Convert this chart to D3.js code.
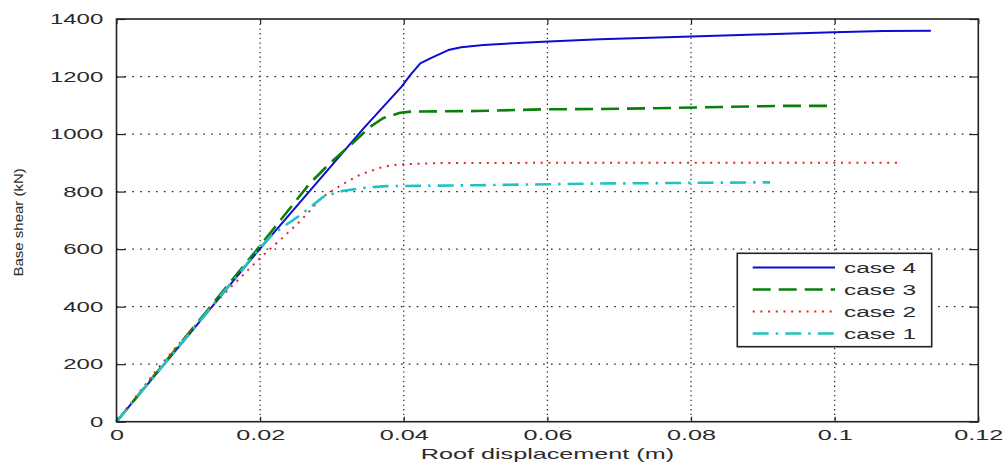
<!DOCTYPE html>
<html>
<head>
<meta charset="utf-8">
<script src="https://cdn.jsdelivr.net/npm/d3@7"></script>
<style>
  body { margin: 0; background: #fff; }
  svg { display: block; }
  text { font-family: 'Liberation Sans', Arial, sans-serif; fill: #2a2a2a; }
</style>
</head>
<body>
<svg id="chart" width="1005" height="468"></svg>
<script>
// pushover curves, displacement in m, shear in kN
var dispCase4 = [0, 0.01, 0.02, 0.03, 0.0344, 0.0397, 0.0409, 0.0423, 0.0437, 0.0462, 0.048, 0.0511, 0.0594, 0.0673, 0.0789, 0.0906, 0.0999, 0.1068, 0.1134]
var shearCase4 = [0, 300, 602, 892, 1020, 1165, 1205, 1246, 1263, 1292, 1302, 1310, 1321, 1330, 1338, 1347, 1354, 1358, 1359]

var dispCase3 = [0, 0.01, 0.02, 0.0269, 0.0297, 0.0325, 0.0353, 0.0371, 0.0395, 0.041, 0.05, 0.0594, 0.0673, 0.0776, 0.0925, 0.0994]
var shearCase3 = [0, 306, 612, 828, 898, 960, 1025, 1055, 1074, 1078, 1080, 1086, 1087, 1091, 1098, 1098]

var dispCase2 = [0, 0.0064, 0.0139, 0.0199, 0.0232, 0.0256, 0.0271, 0.0285, 0.0313, 0.0341, 0.0371, 0.0385, 0.04, 0.045, 0.06, 0.08, 0.1, 0.1092]
var shearCase2 = [0, 205, 417, 567, 641, 698, 738, 778, 823, 861, 886, 892, 895, 899, 900, 900, 900, 900]

var dispCase1 = [0, 0.01, 0.02, 0.0213, 0.0232, 0.0246, 0.026, 0.0288, 0.0316, 0.0348, 0.0376, 0.0418, 0.05, 0.0673, 0.0892, 0.091]
var shearCase1 = [0, 302, 605, 641, 678, 701, 726, 782, 803, 814, 819, 820, 822, 828, 832, 832]

var xTicks = [0, 0.02, 0.04, 0.06, 0.08, 0.1, 0.12]
var yTicks = [0, 200, 400, 600, 800, 1000, 1200, 1400]
var legendLabels = ['case 4', 'case 3', 'case 2', 'case 1']

;(function () {
  var width = 1005
  var height = 468
  var margin = {top: 19, right: 26.7, bottom: 46.3, left: 116.5}
  var stretch = 1.68 // the picture's text is drawn wide

  var innerw = width - margin.left - margin.right
  var innerh = height - margin.top - margin.bottom

  var series = [
    {label: legendLabels[0], x: dispCase4, y: shearCase4, color: '#0c0cd2', dash: null, w: 2},
    {label: legendLabels[1], x: dispCase3, y: shearCase3, color: '#0a800a', dash: '18,8', w: 2.6},
    {label: legendLabels[2], x: dispCase2, y: shearCase2, color: '#e82222', dash: '2,5.7', w: 2},
    {label: legendLabels[3], x: dispCase1, y: shearCase1, color: '#22c2c2', dash: '16,7,2.5,7', w: 2.6}
  ]

  var svg = d3.select('#chart')
  var g = svg.append('g')
      .attr('transform', `translate(${margin.left},${margin.top})`)

  /*
      --------------------------------------
      Scales
  */
  var mapx = d3.scaleLinear()
      .domain([0, 0.12])
      .range([0, innerw])

  var mapy = d3.scaleLinear()
      .domain([0, 1400])
      .range([innerh, 0])

  /*
      --------------------------------------
      Grid
  */
  g.append('g').classed('grid x', true)
    .selectAll('line')
    .data(xTicks.slice(1, -1))
    .enter().append('line')
      .attr('x1', d => mapx(d)).attr('x2', d => mapx(d))
      .attr('y1', 0).attr('y2', innerh)
      .style('stroke', '#222')
      .style('stroke-width', 1.2)
      .style('stroke-dasharray', '1.3,3.4')

  g.append('g').classed('grid y', true)
    .selectAll('line')
    .data(yTicks.slice(1, -1))
    .enter().append('line')
      .attr('x1', 0).attr('x2', innerw)
      .attr('y1', d => mapy(d)).attr('y2', d => mapy(d))
      .style('stroke', '#222')
      .style('stroke-width', 1.2)
      .style('stroke-dasharray', '1.6,6.3')

  /*
      --------------------------------------
      Curves
  */
  var line = d3.line()
      .x(d => mapx(d[0]))
      .y(d => mapy(d[1]))

  g.append('g').classed('curves', true)
    .selectAll('path')
    .data(series)
    .enter().append('path')
      .attr('d', s => line(d3.zip(s.x, s.y)))
      .style('fill', 'none')
      .style('stroke', s => s.color)
      .style('stroke-width', s => s.w)
      .style('stroke-dasharray', s => s.dash)
      .style('stroke-linejoin', 'round')

  /*
      --------------------------------------
      Axes, ticks point inward on all four sides
  */
  function styleAxis (sel) {
    sel.select('.domain').remove()
    sel.selectAll('.tick line').style('stroke', '#222').style('stroke-width', 1.2)
    sel.selectAll('text').style('font-size', '15px').style('fill', '#2a2a2a')
  }

  var xAxis = g.append('g').classed('ax x', true)
      .attr('transform', `translate(0,${innerh})`)
      .call(d3.axisBottom(mapx).tickValues(xTicks).tickFormat(d3.format('~g')).tickSize(-5).tickPadding(8))
      .call(styleAxis)
  xAxis.selectAll('text').attr('transform', `scale(${stretch},1)`)

  var yAxis = g.append('g').classed('ax y', true)
      .call(d3.axisLeft(mapy).tickValues(yTicks).tickFormat(d3.format('d')).tickSize(-9).tickPadding(13.2 / 1.6))
      .call(styleAxis)
  yAxis.selectAll('text').attr('transform', 'scale(1.6,1)')

  g.append('g')
      .call(d3.axisTop(mapx).tickValues(xTicks).tickSize(-5).tickFormat(''))
      .call(styleAxis)

  g.append('g')
      .attr('transform', `translate(${innerw},0)`)
      .call(d3.axisRight(mapy).tickValues(yTicks).tickSize(-9).tickFormat(''))
      .call(styleAxis)

  g.append('rect')
      .attr('width', innerw)
      .attr('height', innerh)
      .style('fill', 'none')
      .style('stroke', '#222')
      .style('stroke-width', 1.6)

  /*
      --------------------------------------
      Axis labels
  */
  g.append('text')
      .attr('transform', `translate(${innerw / 2},${innerh + 37.6}) scale(${stretch},1)`)
      .style('text-anchor', 'middle')
      .style('font-size', '15px')
      .text('Roof displacement (m)')

  g.append('text')
      .attr('transform', `translate(${-margin.left + 22.5},${innerh / 2 + 2}) rotate(-90) scale(1,0.85)`)
      .style('text-anchor', 'middle')
      .style('font-size', '15px')
      .text('Base shear (kN)')

  /*
      --------------------------------------
      Legend
  */
  var legend = svg.append('g').classed('legend', true)
      .attr('transform', 'translate(737.3,253.3)')

  legend.append('rect')
      .attr('width', 194.4)
      .attr('height', 93.4)
      .style('fill', '#fff')
      .style('stroke', '#222')
      .style('stroke-width', 1.6)

  var item = legend.selectAll('.item')
      .data(series)
      .enter().append('g')
      .classed('item', true)
      .attr('transform', (s, i) => `translate(0,${14.2 + i * 22})`)

  item.append('line')
      .attr('x1', 15.4).attr('x2', 97.7)
      .style('stroke', s => s.color)
      .style('stroke-width', s => s.w)
      .style('stroke-dasharray', s => s.dash)

  item.append('text')
      .attr('transform', `translate(106.7,5.4) scale(${stretch * 0.97},1)`)
      .style('font-size', '15px')
      .text(s => s.label)
})()
</script>
</body>
</html>
